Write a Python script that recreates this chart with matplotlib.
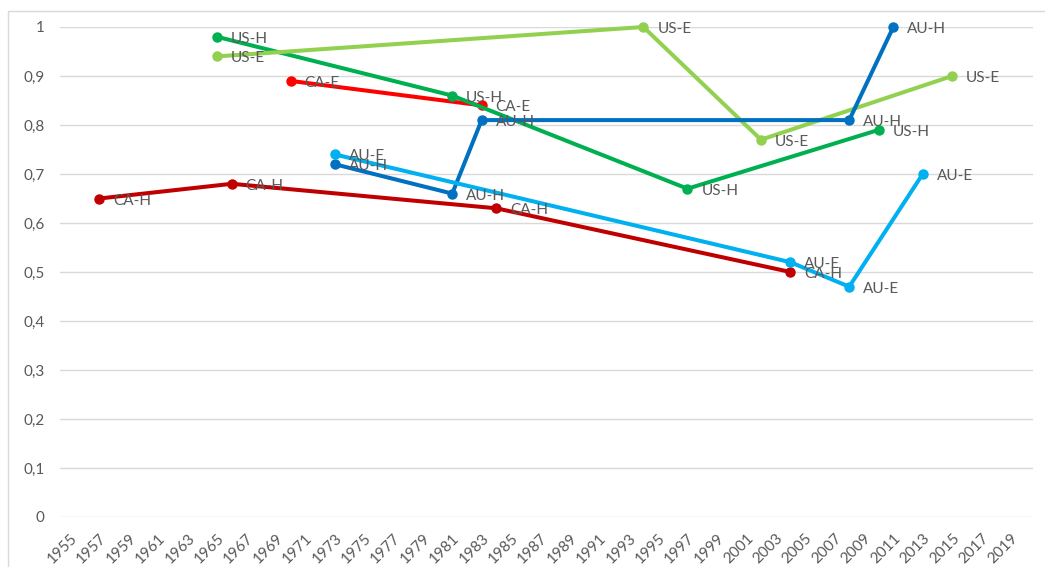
import matplotlib

matplotlib.use("Agg")

import matplotlib.pyplot as plt
from matplotlib.patches import Rectangle

# series
series_names = ["CA-H", "CA-E", "US-H", "US-E", "AU-H", "AU-E"]
series_colors = ["#C00000", "#FF0000", "#00B050", "#92D050", "#0070C0", "#00B0F0"]

ca_h_years = [1957, 1966, 1984, 2004]
ca_h_vals = [0.65, 0.68, 0.63, 0.50]
ca_e_years = [1970, 1983]
ca_e_vals = [0.89, 0.84]
us_h_years = [1965, 1981, 1997, 2010]
us_h_vals = [0.98, 0.86, 0.67, 0.79]
us_e_years = [1965, 1994, 2002, 2015]
us_e_vals = [0.94, 1.00, 0.77, 0.90]
au_h_years = [1973, 1981, 1983, 2008, 2011]
au_h_vals = [0.72, 0.66, 0.81, 0.81, 1.00]
au_e_years = [1973, 2004, 2008, 2013]
au_e_vals = [0.74, 0.52, 0.47, 0.70]

all_years = [ca_h_years, ca_e_years, us_h_years, us_e_years, au_h_years, au_e_years]
all_vals = [ca_h_vals, ca_e_vals, us_h_vals, us_e_vals, au_h_vals, au_e_vals]

x_ticks = list(range(1955, 2020, 2))
y_ticks = [0, 0.1, 0.2, 0.3, 0.4, 0.5, 0.6, 0.7, 0.8, 0.9, 1.0]

text_col = "#595959"
plt.rcParams["font.family"] = ["Lato", "DejaVu Sans"]

fig = plt.figure(figsize=(10.45, 5.67), dpi=100)
ax = fig.add_axes([60 / 1045, 1 - 517 / 567, (1033 - 60) / 1045, (517 - 27) / 567])

for name, col, xs, ys in zip(series_names, series_colors, all_years, all_vals):
    ax.plot(xs, ys, color=col, lw=2.9, marker="o", ms=6.5, clip_on=False,
            solid_capstyle="round", zorder=3)
    for x, y in zip(xs, ys):
        ax.annotate(name, (x, y), xytext=(10, -1.5), textcoords="offset points",
                    ha="left", va="center", fontsize=11, color=text_col, zorder=5)

ax.set_xlim(1954.32, 2020.5)
ax.set_ylim(0, 1)
ax.set_xticks(x_ticks)
ax.set_xticklabels([str(y) for y in x_ticks], rotation=45, ha="right",
                   rotation_mode="anchor", fontsize=11, color=text_col)
ax.set_yticks(y_ticks)
ax.set_yticklabels([("%.1f" % v).replace(".", ",") if v not in (0, 1.0) else "%d" % v
                    for v in y_ticks], fontsize=11, color=text_col)
ax.tick_params(axis="both", length=0)
ax.tick_params(axis="y", pad=11)
ax.tick_params(axis="x", pad=10)
ax.grid(axis="y", color="#D9D9D9", lw=1)
ax.set_axisbelow(True)
for s in ax.spines.values():
    s.set_visible(False)

# chart border
fig.patches.append(Rectangle((8 / 1045, -0.1), 1.2, 1.1 - 11 / 567, transform=fig.transFigure,
                             fill=False, edgecolor="#D9D9D9", lw=1))

plt.savefig("out.png", dpi=100)
